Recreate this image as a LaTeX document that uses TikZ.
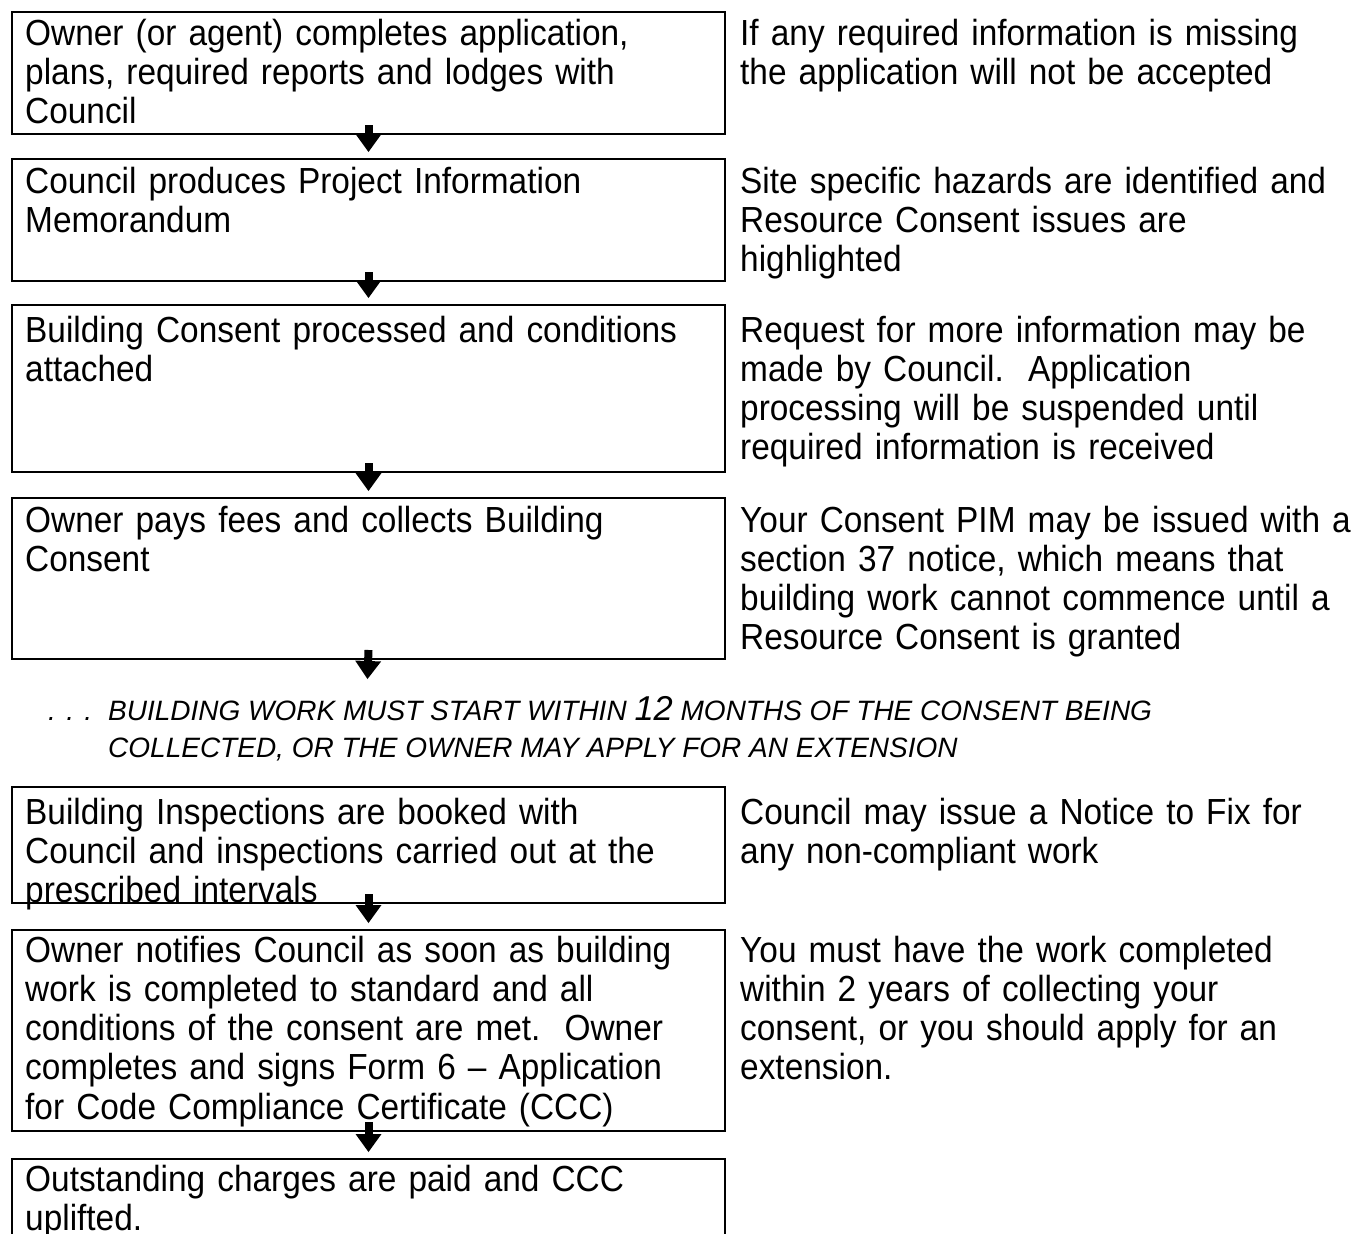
\documentclass[tikz,border=0pt]{standalone}
\usepackage{fontspec}
\setmainfont{Liberation Sans}
\newfontfamily\bodyfont{Liberation Sans}[FakeStretch=0.92]
\usetikzlibrary{arrows.meta}
\begin{document}
\begin{tikzpicture}[x=1pt,y=-1pt,
  stepbox/.style={draw, line width=2pt, minimum width=713pt, inner sep=0pt, anchor=north west},
  lefttxt/.style={anchor=base west, align=left, inner sep=0pt, text width=700pt, font=\bodyfont\fontsize{36.3}{39.3}\selectfont},
  righttxt/.style={anchor=base west, align=left, inner sep=0pt, text width=630pt, font=\bodyfont\fontsize{36.3}{39.3}\selectfont},
  notetxt/.style={anchor=base west, inner sep=0pt, font=\fontsize{28}{37}\selectfont\itshape},
  flow/.style={line width=8pt, -{Triangle[width=26pt,length=18pt,line width=0pt]}}
]
\useasboundingbox (0,0) rectangle (1360,1234);
% boxes
\node[stepbox, minimum height=122pt] (b1) at (11,11) {};
\node[stepbox, minimum height=122pt] (b2) at (11,158) {};
\node[stepbox, minimum height=167pt] (b3) at (11,304) {};
\node[stepbox, minimum height=161pt] (b4) at (11,497) {};
\node[stepbox, minimum height=116pt] (b5) at (11,786) {};
\node[stepbox, minimum height=201pt] (b6) at (11,929) {};
\node[stepbox, minimum height=130pt] (b7) at (11,1158) {};
% box texts
\node[lefttxt] (t1) at (25,45) {Owner (or agent) completes application,\\plans, required reports and lodges with\\Council};
\node[lefttxt] (t2) at (25,193) {Council produces Project Information\\Memorandum};
\node[lefttxt] (t3) at (25,342) {Building Consent processed and conditions\\attached};
\node[lefttxt] (t4) at (25,532) {Owner pays fees and collects Building\\Consent};
\node[lefttxt] (t5) at (25,824) {Building Inspections are booked with\\Council and inspections carried out at the\\prescribed intervals};
\node[lefttxt] (t6) at (25,962) {Owner notifies Council as soon as building\\work is completed to standard and all\\conditions of the consent are met.\ \ Owner\\completes and signs Form 6 – Application\\for Code Compliance Certificate (CCC)};
\node[lefttxt] (t7) at (25,1191) {Outstanding charges are paid and CCC\\uplifted.};
% side notes
\node[righttxt] (r1) at (740,45) {If any required information is missing\\the application will not be accepted};
\node[righttxt] (r2) at (740,193) {Site specific hazards are identified and\\Resource Consent issues are\\highlighted};
\node[righttxt] (r3) at (740,342) {Request for more information may be\\made by Council.\ \ Application\\processing will be suspended until\\required information is received};
\node[righttxt] (r4) at (740,532) {Your Consent PIM may be issued with a\\section 37 notice, which means that\\building work cannot commence until a\\Resource Consent is granted};
\node[righttxt] (r5) at (740,824) {Council may issue a Notice to Fix for\\any non-compliant work};
\node[righttxt] (r6) at (740,962) {You must have the work completed\\within 2 years of collecting your\\consent, or you should apply for an\\extension.};
% italic note
\node[notetxt] (dots) at (48,720) {. . .};
\node[notetxt] (n1) at (108,720) {BUILDING WORK MUST START WITHIN {\fontsize{34.5}{38.5}\selectfont 12} MONTHS OF THE CONSENT BEING};
\node[notetxt] (n2) at (108,757) {COLLECTED, OR THE OWNER MAY APPLY FOR AN EXTENSION};
\coordinate (a4end) at (367.5,679);
% arrows
\draw[flow] ([yshift=10pt]b1.south) -- ([yshift=6pt]b2.north);
\draw[flow] ([yshift=10pt]b2.south) -- ([yshift=6pt]b3.north);
\draw[flow] ([yshift=10pt]b3.south) -- ([yshift=6pt]b4.north);
\draw[flow] ([yshift=10pt]b4.south) -- (a4end);
\draw[flow] ([yshift=10pt]b5.south) -- ([yshift=6pt]b6.north);
\draw[flow] ([yshift=10pt]b6.south) -- ([yshift=6pt]b7.north);
\end{tikzpicture}
\end{document}
